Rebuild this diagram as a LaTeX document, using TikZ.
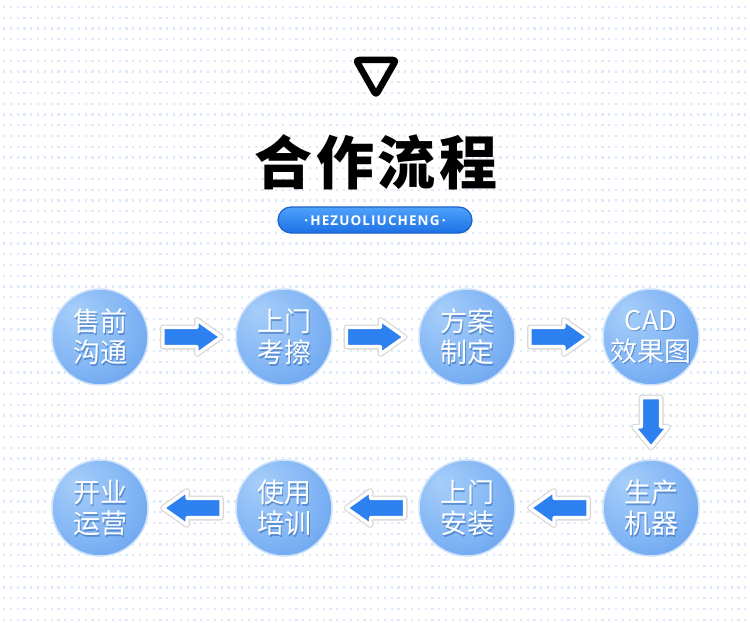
\documentclass[tikz,border=0pt]{standalone}
\usepackage{fontspec}
\newfontfamily\cjk{Noto Sans CJK SC}
\newfontfamily\badgefont[LetterSpace=8]{Open Sans}
\usetikzlibrary{calc}
\definecolor{dotc}{HTML}{DDE8F8}
\definecolor{bubA}{HTML}{A6CEF9}
\definecolor{bubB}{HTML}{86B8F5}
\definecolor{bubC}{HTML}{5F9CEC}
\definecolor{bubD}{HTML}{4186E2}
\definecolor{bubRim}{HTML}{CFE2FB}
\definecolor{bubShadow}{HTML}{2A5FA8}
\definecolor{arrowblue}{HTML}{2C80F0}
\definecolor{badgeTop}{HTML}{4FA2FB}
\definecolor{badgeBot}{HTML}{1D70E4}
\definecolor{badgeRim}{HTML}{1A62CC}
\pgfdeclareradialshading{bubbleshade}{\pgfpoint{-14bp}{14bp}}{color(0bp)=(bubA); color(22bp)=(bubB); color(44bp)=(bubC); color(60bp)=(bubD)}
\newcommand\bubble[3]{%
  \node[bubblebox] (#1) at (#2) {};
  \node[bubtxt, text=bubShadow, opacity=.5] (#1s) at ($(#1)+(1,1.5)$) {#3};
  \node[bubtxt] (#1t) at (#1) {#3};
}
\newcommand\blockarrow[3]{%
  \begin{scope}[shift={(#1)}, rotate=#2, xscale=#3]
    \path[draw=black!15, line width=6, line join=round]
      (-29,-9.5) -- (5,-9.5) -- (5,-17) -- (29,0) -- (5,17) -- (5,9.5) -- (-29,9.5) -- cycle;
    \path[fill=arrowblue, draw=white, line width=3.4, line join=round]
      (-29,-9.5) -- (5,-9.5) -- (5,-17) -- (29,0) -- (5,17) -- (5,9.5) -- (-29,9.5) -- cycle;
  \end{scope}}
\begin{document}
\begin{tikzpicture}[x=1pt,y=-1pt,
  dotrow/.style={draw=dotc, line width=2.2pt, dash pattern=on 2.2pt off 4.6pt},
  bubblebox/.style={circle, minimum size=96pt, inner sep=0pt, shading=bubbleshade, draw=bubRim, line width=1.5pt},
  bubtxt/.style={text=white, align=center, inner sep=0pt, font=\cjk\fontsize{27}{31}\selectfont},
  ]
\useasboundingbox (0,0) rectangle (750,623);
\fill[white] (0,0) rectangle (750,623);
\foreach \k in {0,...,57} {
  \draw[dotrow] (3,{7+10.75*\k}) -- (750,{7+10.75*\k});
}
% triangle
\draw[line width=6.5pt, line join=round, rounded corners=3pt, black]
  (356,60) -- (396,60) -- (376,95) -- cycle;
% title
\node[text=black] (title) at (376,162) {\cjk\bfseries\fontsize{58}{62}\selectfont\addfontfeature{LetterSpace=6}合作流程};
% badge
\node[draw=badgeRim, line width=1.2pt, rounded corners=13pt, minimum width=194pt, minimum height=26pt,
      top color=badgeTop, bottom color=badgeBot, inner sep=0pt] (badge) at (375,220) {};
\node[text=white, inner sep=0pt] (badget) at (375,220.5) {\badgefont\bfseries\fontsize{13.5}{14}\selectfont ·\,HEZUOLIUCHENG\,·};
% bubbles
\bubble{c1}{100,337}{售前\\沟通}
\bubble{c2}{284,337}{上门\\考擦}
\bubble{c3}{467,337}{方案\\制定}
\bubble{c4}{651,337}{CAD\\效果图}
\bubble{c5}{651,508}{生产\\机器}
\bubble{c6}{467,508}{上门\\安装}
\bubble{c7}{284,508}{使用\\培训}
\bubble{c8}{100,508}{开业\\运营}
% arrow positions
\path (c1) -- (c2) coordinate[midway] (a1);
\path (c2) -- (c3) coordinate[midway] (a2);
\path (c3) -- (c4) coordinate[midway] (a3);
\path (c4) -- (c5) coordinate[midway] (a4);
\path (c5) -- (c6) coordinate[midway] (a5);
\path (c6) -- (c7) coordinate[midway] (a6);
\path (c7) -- (c8) coordinate[midway] (a7);
\blockarrow{a1}{0}{1}
\blockarrow{a2}{0}{1}
\blockarrow{a3}{0}{1}
\blockarrow{a4}{-90}{0.86}
\blockarrow{a5}{180}{1}
\blockarrow{a6}{180}{1}
\blockarrow{a7}{180}{1}
\end{tikzpicture}
\end{document}
